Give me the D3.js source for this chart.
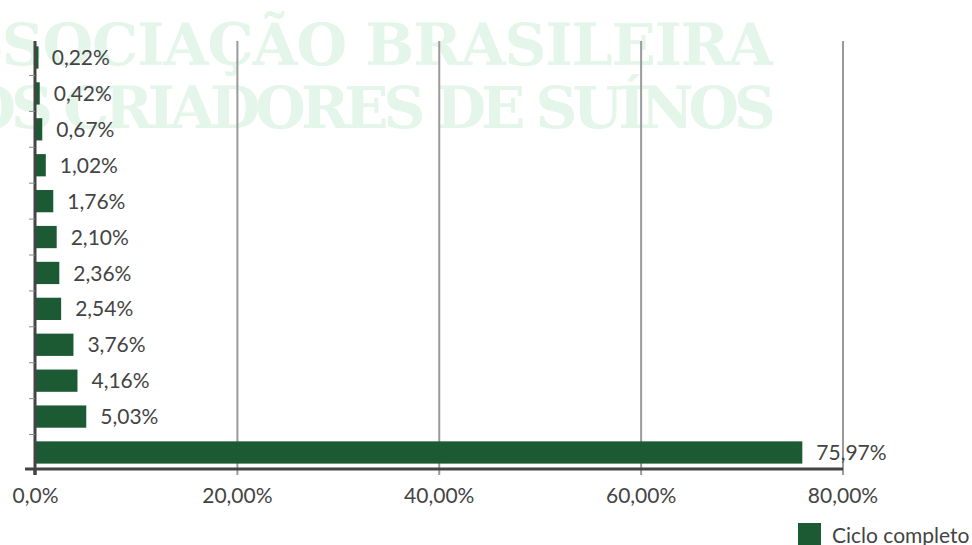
<!DOCTYPE html>
<html>
<head>
<meta charset="utf-8">
<script src="https://cdn.jsdelivr.net/npm/d3@7"></script>
<style>
body { margin: 0; background: #fff; }
text { font-family: Lato, "Open Sans", sans-serif; }
</style>
</head>
<body>
<svg id="chart" width="972" height="545"></svg>
<script>
// dados (de cima para baixo)
var categorias = [1, 2, 3, 4, 5, 6, 7, 8, 9, 10, 11, 12];
var valores = [0.22, 0.42, 0.67, 1.02, 1.76, 2.10, 2.36, 2.54, 3.76, 4.16, 5.03, 75.97];
var ticksX = [0, 20, 40, 60, 80];
var ticksLabels = ['0,0%', '20,00%', '40,00%', '60,00%', '80,00%'];
var serie = 'Ciclo completo';
var marcaDagua = ['ASSOCIAÇÃO BRASILEIRA', 'DOS CRIADORES DE SUÍNOS'];

var verde = '#1c5a33';
var cinza = '#444';

var svg = d3.select('#chart');

// marca d'agua no fundo
svg.selectAll('.wm')
  .data(marcaDagua)
  .enter().append('text')
  .attr('class', 'wm')
  .attr('x', function(d, i) { return i == 0 ? -82 : -80; })
  .attr('y', function(d, i) { return 65 + i * 63; })
  .attr('textLength', function(d, i) { return i == 0 ? 855 : 856; })
  .attr('lengthAdjust', 'spacing')
  .style('font-family', '"DejaVu Serif", serif')
  .style('font-weight', 'bold')
  .style('font-size', '58px')
  .style('fill', '#e4f5ea')
  .text(function(d) { return d; });

var x = d3.scaleLinear().domain([0, 80]).range([35.5, 843]);
var y = d3.scaleBand().domain(categorias).range([41, 469]).paddingInner(0.38).paddingOuter(0.15);

// linhas de grade
svg.selectAll('.grid')
  .data(ticksX.slice(1))
  .enter().append('line')
  .attr('x1', function(d) { return x(d); })
  .attr('x2', function(d) { return x(d); })
  .attr('y1', 41)
  .attr('y2', 475)
  .attr('stroke', '#9a9a9a')
  .attr('stroke-width', 2);

// barras
svg.selectAll('.bar')
  .data(valores)
  .enter().append('rect')
  .attr('x', x(0))
  .attr('y', function(d, i) { return y(categorias[i]); })
  .attr('width', function(d) { return Math.max(x(d) - x(0), 3); })
  .attr('height', y.bandwidth())
  .attr('fill', verde);

// rotulos de valor
svg.selectAll('.lbl')
  .data(valores)
  .enter().append('text')
  .attr('x', function(d) { return x(d) + 14; })
  .attr('y', function(d, i) { return y(categorias[i]) + y.bandwidth() / 2; })
  .attr('dy', '0.36em')
  .style('font-size', '21px')
  .style('fill', cinza)
  .text(function(d) { return d.toFixed(2).replace('.', ',') + '%'; });

// eixo y com marcas entre categorias
var yAxis = svg.append('g');
yAxis.append('line')
  .attr('x1', 35).attr('x2', 35)
  .attr('y1', 41).attr('y2', 475)
  .attr('stroke', cinza).attr('stroke-width', 3);
yAxis.selectAll('.yt')
  .data(categorias.slice(1))
  .enter().append('line')
  .attr('x1', 29).attr('x2', 35)
  .attr('y1', function(d) { return y(d) - y.step() * y.paddingInner() / 2; })
  .attr('y2', function(d) { return y(d) - y.step() * y.paddingInner() / 2; })
  .attr('stroke', '#888').attr('stroke-width', 1);

// eixo x
var xAxis = svg.append('g');
xAxis.append('line')
  .attr('x1', 25).attr('x2', 843)
  .attr('y1', 469).attr('y2', 469)
  .attr('stroke', cinza).attr('stroke-width', 3);
xAxis.append('line')
  .attr('x1', 35).attr('x2', 35)
  .attr('y1', 469).attr('y2', 475)
  .attr('stroke', cinza).attr('stroke-width', 3);
xAxis.selectAll('.xl')
  .data(ticksX)
  .enter().append('text')
  .attr('x', function(d) { return x(d); })
  .attr('y', 503)
  .attr('text-anchor', 'middle')
  .style('font-size', '21px')
  .style('fill', cinza)
  .text(function(d, i) { return ticksLabels[i]; });

// legenda
svg.append('rect')
  .attr('x', 798).attr('y', 523)
  .attr('width', 23).attr('height', 23)
  .attr('fill', verde);
svg.append('text')
  .attr('x', 832).attr('y', 543)
  .style('font-size', '21px')
  .style('fill', cinza)
  .text(serie);
</script>
</body>
</html>
